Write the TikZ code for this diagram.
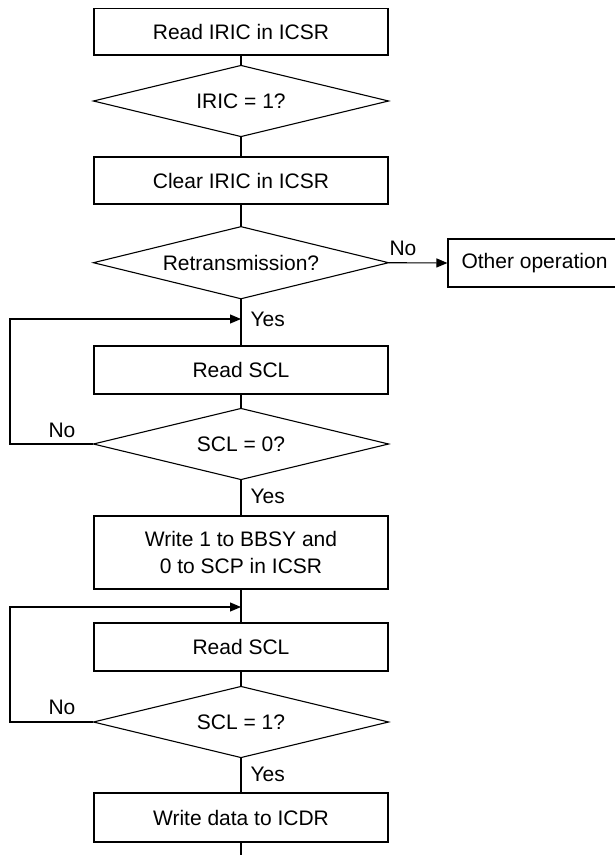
\documentclass[tikz,border=0pt]{standalone}
\usepackage{fontspec}
\setmainfont{Liberation Sans}
\usetikzlibrary{arrows.meta}
\begin{document}
\begin{tikzpicture}[x=1pt,y=-1pt,
  line width=1.1pt,
  every node/.style={font=\fontsize{21}{27}\selectfont, inner sep=0pt},
  procbox/.style={draw, rectangle, minimum width=294pt, align=center},
  decbox/.style={rectangle, minimum width=294pt, minimum height=70pt},
  lbl/.style={},
  arr/.style={-{Triangle[length=11pt,width=9pt]}}]
\clip (0,0) rectangle (615,855);
% nodes
\node[procbox, minimum height=46.5pt] (b1) at (241,31.75) {Read IRIC in ICSR};
\node[decbox] (d1) at (241,101) {IRIC = 1?};
\node[procbox, minimum height=47pt] (b2) at (241,180.5) {Clear IRIC in ICSR};
\node[decbox, minimum height=71pt] (d2) at (241,262.7) {Retransmission?};
\node[draw, rectangle, minimum width=173pt, minimum height=48pt] (oth) at (534.5,263) {Other operation};
\node[procbox, minimum height=48pt] (b3) at (241,370) {Read SCL};
\node[decbox] (d3) at (241,444) {SCL = 0?};
\node[procbox, minimum height=73pt] (b4) at (241,552.5) {Write 1 to BBSY and\\0 to SCP in ICSR};
\node[procbox, minimum height=48pt] (b5) at (241,647) {Read SCL};
\node[decbox] (d4) at (241,722) {SCL = 1?};
\node[procbox, minimum height=49pt] (b6) at (241,817.5) {Write data to ICDR};
% diamonds
\foreach \d in {d1,d2,d3,d4}
  \draw (\d.north) -- (\d.east) -- (\d.south) -- (\d.west) -- cycle;
% helper coordinates
\coordinate (j1) at (241,319);
\coordinate (j2) at (241,607);
\coordinate (l1) at (10,444);
\coordinate (u1) at (10,319);
\coordinate (l2) at (10,722);
\coordinate (u2) at (10,607);
\coordinate (endp) at (241,860);
% connectors
\draw (b1.south) -- (d1.north);
\draw (d1.south) -- (b2.north);
\draw (b2.south) -- (d2.north);
\draw[arr] (d2.east) -- (oth.west);
\draw (d2.south) -- (b3.north);
\draw (b3.south) -- (d3.north);
\draw[arr] (d3.west) -- (l1) -- (u1) -- (j1);
\draw (d3.south) -- (b4.north);
\draw (b4.south) -- (b5.north);
\draw[arr] (d4.west) -- (l2) -- (u2) -- (j2);
\draw (b5.south) -- (d4.north);
\draw (d4.south) -- (b6.north);
\draw (b6.south) -- (endp);
% labels
\node[lbl] (n1) at (403,248) {No};
\node[lbl, anchor=west] (y1) at (250,319) {Yes};
\node[lbl] (n2) at (62,430) {No};
\node[lbl, anchor=west] (y2) at (250,496) {Yes};
\node[lbl] (n3) at (62,707) {No};
\node[lbl, anchor=west] (y3) at (250,774) {Yes};
\end{tikzpicture}
\end{document}
